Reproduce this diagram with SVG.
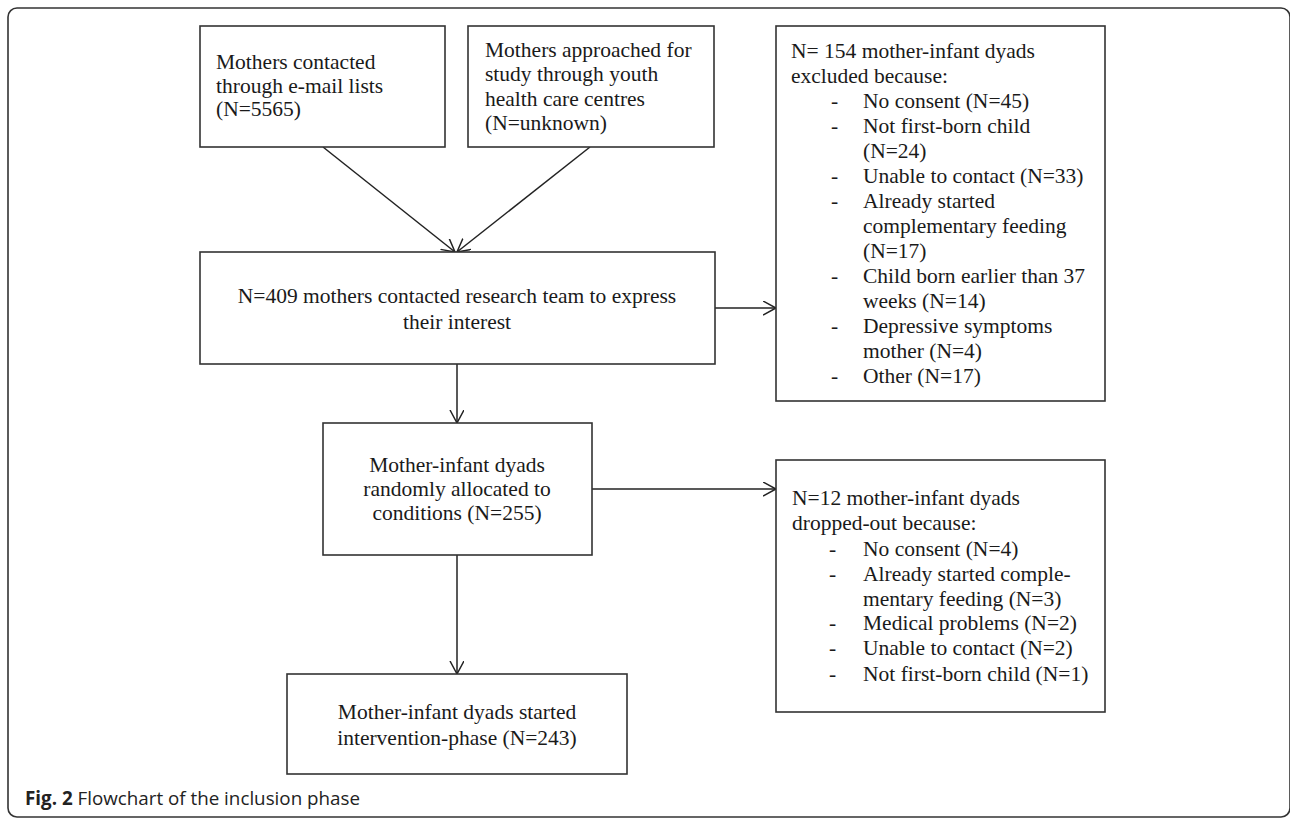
<svg xmlns="http://www.w3.org/2000/svg" width="1290" height="820" viewBox="0 0 1290 820">
<defs>
<style>
.box{fill:#fff;stroke:#333;stroke-width:1.6}
.t{font-family:"Liberation Serif","Times New Roman",serif;font-size:21.5px;fill:#1a1a1a}
.c{text-anchor:middle}
.ln{fill:none;stroke:#222;stroke-width:1.5}
.cap{font-family:"Open Sans","Noto Sans",sans-serif;font-size:18.8px;fill:#222}
</style>
<marker id="ah" markerUnits="userSpaceOnUse" markerWidth="16" markerHeight="16" refX="13" refY="7" orient="auto">
<path d="M0,0 L13,7 L0,14" fill="none" stroke="#222" stroke-width="1.5"/>
</marker>
</defs>
<rect x="0" y="0" width="1290" height="820" fill="#fff"/>
<rect x="8" y="8" width="1282" height="809" rx="9" ry="9" fill="none" stroke="#333" stroke-width="1.6"/>

<g id="connectors">
<line class="ln" x1="323" y1="147" x2="455" y2="252" marker-end="url(#ah)"/>
<line class="ln" x1="590" y1="147" x2="457" y2="252" marker-end="url(#ah)"/>
<line class="ln" x1="715" y1="308" x2="776" y2="308" marker-end="url(#ah)"/>
<line class="ln" x1="457" y1="364" x2="457" y2="423" marker-end="url(#ah)"/>
<line class="ln" x1="592" y1="489" x2="776" y2="489" marker-end="url(#ah)"/>
<line class="ln" x1="457" y1="555" x2="457" y2="674" marker-end="url(#ah)"/>
</g>

<g id="n1">
<rect class="box" x="200" y="26" width="245" height="121"/>
<text class="t" x="216" y="69">Mothers contacted</text>
<text class="t" x="216" y="93">through e-mail lists</text>
<text class="t" x="216" y="116">(N=5565)</text>
</g>

<g id="n2">
<rect class="box" x="468" y="26" width="246" height="121"/>
<text class="t" x="485" y="57">Mothers approached for</text>
<text class="t" x="485" y="81">study through youth</text>
<text class="t" x="485" y="106">health care centres</text>
<text class="t" x="485" y="130">(N=unknown)</text>
</g>

<g id="n3">
<rect class="box" x="200" y="252" width="515" height="112"/>
<text class="t c" x="457" y="303">N=409 mothers contacted research team to express</text>
<text class="t c" x="457" y="329">their interest</text>
</g>

<g id="n4">
<rect class="box" x="776" y="26" width="329" height="375"/>
<text class="t" x="791" y="58">N= 154 mother-infant dyads</text>
<text class="t" x="791" y="83">excluded because:</text>
<text class="t" x="831" y="108">-</text><text class="t" x="863" y="108">No consent (N=45)</text>
<text class="t" x="831" y="133">-</text><text class="t" x="863" y="133">Not first-born child</text>
<text class="t" x="863" y="158">(N=24)</text>
<text class="t" x="831" y="183">-</text><text class="t" x="863" y="183">Unable to contact (N=33)</text>
<text class="t" x="831" y="208">-</text><text class="t" x="863" y="208">Already started</text>
<text class="t" x="863" y="233">complementary feeding</text>
<text class="t" x="863" y="258">(N=17)</text>
<text class="t" x="831" y="283">-</text><text class="t" x="863" y="283">Child born earlier than 37</text>
<text class="t" x="863" y="308">weeks  (N=14)</text>
<text class="t" x="831" y="333">-</text><text class="t" x="863" y="333">Depressive symptoms</text>
<text class="t" x="863" y="358">mother (N=4)</text>
<text class="t" x="831" y="383">-</text><text class="t" x="863" y="383">Other (N=17)</text>
</g>

<g id="n5">
<rect class="box" x="323" y="423" width="269" height="132"/>
<text class="t c" x="457" y="472">Mother-infant dyads</text>
<text class="t c" x="457" y="496">randomly allocated to</text>
<text class="t c" x="457" y="520">conditions (N=255)</text>
</g>

<g id="n6">
<rect class="box" x="776" y="460" width="329" height="252"/>
<text class="t" x="792" y="505">N=12 mother-infant dyads</text>
<text class="t" x="792" y="530">dropped-out because:</text>
<text class="t" x="829" y="556">-</text><text class="t" x="863" y="556">No consent (N=4)</text>
<text class="t" x="829" y="581">-</text><text class="t" x="863" y="581">Already started comple-</text>
<text class="t" x="863" y="606">mentary feeding (N=3)</text>
<text class="t" x="829" y="630">-</text><text class="t" x="863" y="630">Medical problems (N=2)</text>
<text class="t" x="829" y="655">-</text><text class="t" x="863" y="655">Unable to contact  (N=2)</text>
<text class="t" x="829" y="681">-</text><text class="t" x="863" y="681">Not first-born child (N=1)</text>
</g>

<g id="n7">
<rect class="box" x="287" y="674" width="340" height="100"/>
<text class="t c" x="457" y="719">Mother-infant dyads started</text>
<text class="t c" x="457" y="745">intervention-phase (N=243)</text>
</g>

<g id="caption">
<text class="cap" x="25" y="805"><tspan font-weight="bold">Fig. 2</tspan> Flowchart of the inclusion phase</text>
</g>
</svg>
